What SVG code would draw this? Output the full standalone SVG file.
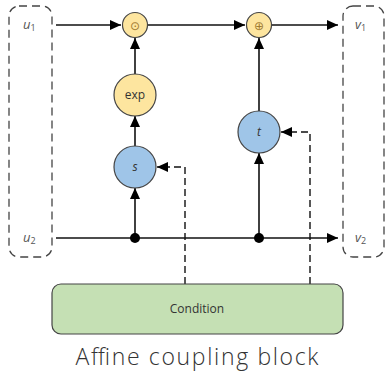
<svg xmlns="http://www.w3.org/2000/svg" width="385" height="372" viewBox="0 0 385 372">
<style>
.lbl{font-family:"Open Sans","DejaVu Sans",sans-serif;fill:#555;font-size:13px;font-style:italic}
.sub{font-size:9px;font-style:normal}
.box{fill:none;stroke:#444;stroke-width:1.3;stroke-dasharray:8,5}
.yel{fill:#fde59f;stroke:#444;stroke-width:1.2}
.blu{fill:#9fc5e8;stroke:#444;stroke-width:1.2}
.ln{stroke:#111;stroke-width:1.6;fill:none}
.dl{stroke:#111;stroke-width:1.4;fill:none;stroke-dasharray:7,4}
.nt{font-family:"Open Sans","DejaVu Sans",sans-serif;font-size:12px;fill:#333;text-anchor:middle}
</style>
<defs>
<marker id="ah" markerWidth="12" markerHeight="10" refX="11" refY="5" orient="auto" markerUnits="userSpaceOnUse">
<path d="M0,0 L11,5 L0,10 Z" fill="#000"/>
</marker>
</defs>
<g id="in-box"><rect class="box" x="9" y="6" width="43" height="251" rx="10"/>
<text class="lbl" x="23" y="29">u<tspan class="sub" dy="2">1</tspan></text>
<text class="lbl" x="23" y="242">u<tspan class="sub" dy="2">2</tspan></text></g>
<g id="out-box"><rect class="box" x="343" y="6" width="41" height="251" rx="10"/>
<text class="lbl" x="355" y="29">v<tspan class="sub" dy="2">1</tspan></text>
<text class="lbl" x="355" y="242">v<tspan class="sub" dy="2">2</tspan></text></g>
<g id="connectors">
<line class="ln" x1="56" y1="25" x2="121" y2="25" marker-end="url(#ah)"/>
<line class="ln" x1="148" y1="25" x2="245" y2="25" marker-end="url(#ah)"/>
<line class="ln" x1="272" y1="25" x2="338" y2="25" marker-end="url(#ah)"/>
<line class="ln" x1="56" y1="238" x2="338" y2="238" marker-end="url(#ah)"/>
<line class="ln" x1="135" y1="238" x2="135" y2="188" marker-end="url(#ah)"/>
<line class="ln" x1="135" y1="146" x2="135" y2="116" marker-end="url(#ah)"/>
<line class="ln" x1="135" y1="74" x2="135" y2="38" marker-end="url(#ah)"/>
<line class="ln" x1="259" y1="238" x2="259" y2="153" marker-end="url(#ah)"/>
<line class="ln" x1="259" y1="111" x2="259" y2="38" marker-end="url(#ah)"/>
<path class="dl" d="M185,284 V167 H157" marker-end="url(#ah)"/>
<path class="dl" d="M310,284 V132 H281" marker-end="url(#ah)"/>
<circle cx="135" cy="238" r="5" fill="#000"/>
<circle cx="259" cy="238" r="5" fill="#000"/>
</g>
<g id="mul"><circle class="yel" cx="135" cy="25" r="12.5"/><text class="nt" x="135" y="29.5" style="fill:#a07a30">⊙</text></g>
<g id="add"><circle class="yel" cx="259" cy="25" r="12.5"/><text class="nt" x="259" y="29.5" style="fill:#a07a30">⊕</text></g>
<g id="exp"><circle class="yel" cx="135" cy="95" r="21"/><text class="nt" x="135" y="99">exp</text></g>
<g id="s"><circle class="blu" cx="135" cy="167" r="21"/><text class="nt" x="135" y="171" font-style="italic">s</text></g>
<g id="t"><circle class="blu" cx="259" cy="132" r="21"/><text class="nt" x="259" y="136" font-style="italic">t</text></g>
<g id="condition"><rect x="52" y="284" width="291" height="50" rx="9" fill="#c5e0b4" stroke="#444" stroke-width="1.2"/>
<text class="nt" x="197" y="313" font-size="12.5">Condition</text></g>
<text x="197" y="365" font-family="Open Sans, DejaVu Sans, sans-serif" font-weight="300" font-size="23" fill="#333" text-anchor="middle" textLength="243" lengthAdjust="spacing">Affine coupling block</text>
</svg>
